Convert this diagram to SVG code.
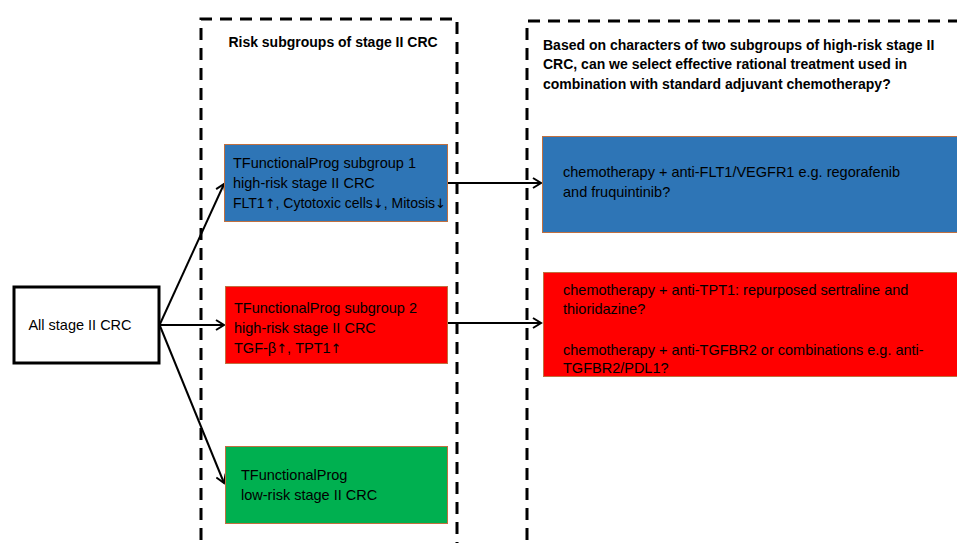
<svg xmlns="http://www.w3.org/2000/svg" width="957" height="543" viewBox="0 0 957 543">
<defs>
<style>
.t{font-family:"Liberation Sans",Arial,sans-serif;font-size:14.5px;fill:#000}
.s{font-size:14px}
.b{font-family:"Liberation Sans",Arial,sans-serif;font-size:14px;font-weight:bold;fill:#000}
.ar{font-family:"DejaVu Sans",sans-serif;font-size:13px}
.dash{fill:none;stroke:#000;stroke-width:3;stroke-dasharray:12 8}
.node{stroke:#C07040;stroke-width:1}
.conn{stroke:#000;stroke-width:2;fill:none}
</style>
<marker id="ah" markerWidth="12" markerHeight="12" refX="10" refY="6" orient="auto" markerUnits="userSpaceOnUse">
<path d="M2,1 L10,6 L2,11" fill="none" stroke="#000" stroke-width="2"/>
</marker>
</defs>
<rect width="957" height="543" fill="#fff"/>
<g id="frames">
<path class="dash" d="M201,560 L201,19 L457,19 L457,560"/>
<path class="dash" d="M527,560 L527,21 L970,21"/>
<text class="b" x="333" y="47" text-anchor="middle">Risk subgroups of stage II CRC</text>
<text class="b" x="543" y="50">Based on characters of two subgroups of high-risk stage II</text>
<text class="b" x="543" y="69">CRC, can we select effective rational treatment used in</text>
<text class="b" x="543" y="89">combination with standard adjuvant chemotherapy?</text>
</g>
<g id="connectors">
<line class="conn" x1="160" y1="324" x2="224" y2="184" marker-end="url(#ah)"/>
<line class="conn" x1="160" y1="325" x2="224" y2="325" marker-end="url(#ah)"/>
<line class="conn" x1="160" y1="326" x2="224" y2="483" marker-end="url(#ah)"/>
<line class="conn" x1="447" y1="183" x2="541" y2="183" marker-end="url(#ah)"/>
<line class="conn" x1="447" y1="323" x2="541" y2="323" marker-end="url(#ah)"/>
</g>
<g id="all">
<rect x="14" y="287" width="145" height="76" fill="#fff" stroke="#000" stroke-width="3"/>
<text class="t" x="80" y="330" text-anchor="middle">All stage II CRC</text>
</g>
<g id="sub1">
<rect class="node" x="224.5" y="144.5" width="223" height="77" fill="#2E75B6"/>
<text class="t" x="233" y="168">TFunctionalProg subgroup 1</text>
<text class="t" x="233" y="188">high-risk stage II CRC</text>
<text class="t s" x="233" y="208">FLT1<tspan class="ar">↑</tspan>, Cytotoxic cells<tspan class="ar">↓</tspan>, Mitosis<tspan class="ar">↓</tspan></text>
</g>
<g id="sub2">
<rect class="node" x="225.5" y="286.5" width="222" height="77" fill="#FF0000"/>
<text class="t" x="234" y="313">TFunctionalProg subgroup 2</text>
<text class="t" x="234" y="333">high-risk stage II CRC</text>
<text class="t" x="234" y="353">TGF-β<tspan class="ar">↑</tspan>, TPT1<tspan class="ar">↑</tspan></text>
</g>
<g id="low">
<rect class="node" x="225.5" y="446.5" width="222" height="77" fill="#00B050"/>
<text class="t" x="241" y="480">TFunctionalProg</text>
<text class="t" x="241" y="500">low-risk stage II CRC</text>
</g>
<g id="treat1">
<rect class="node" x="542.5" y="136.5" width="415" height="96" fill="#2E75B6"/>
<text class="t" x="563" y="177">chemotherapy + anti-FLT1/VEGFR1 e.g. regorafenib</text>
<text class="t" x="563" y="197">and fruquintinib?</text>
</g>
<g id="treat2">
<rect class="node" x="543.5" y="272.5" width="414" height="104" fill="#FF0000"/>
<text class="t" x="563" y="295">chemotherapy + anti-TPT1: repurposed sertraline and</text>
<text class="t" x="563" y="314">thioridazine?</text>
<text class="t" x="563" y="355">chemotherapy + anti-TGFBR2 or combinations e.g. anti-</text>
<text class="t" x="563" y="373">TGFBR2/PDL1?</text>
</g>
</svg>
